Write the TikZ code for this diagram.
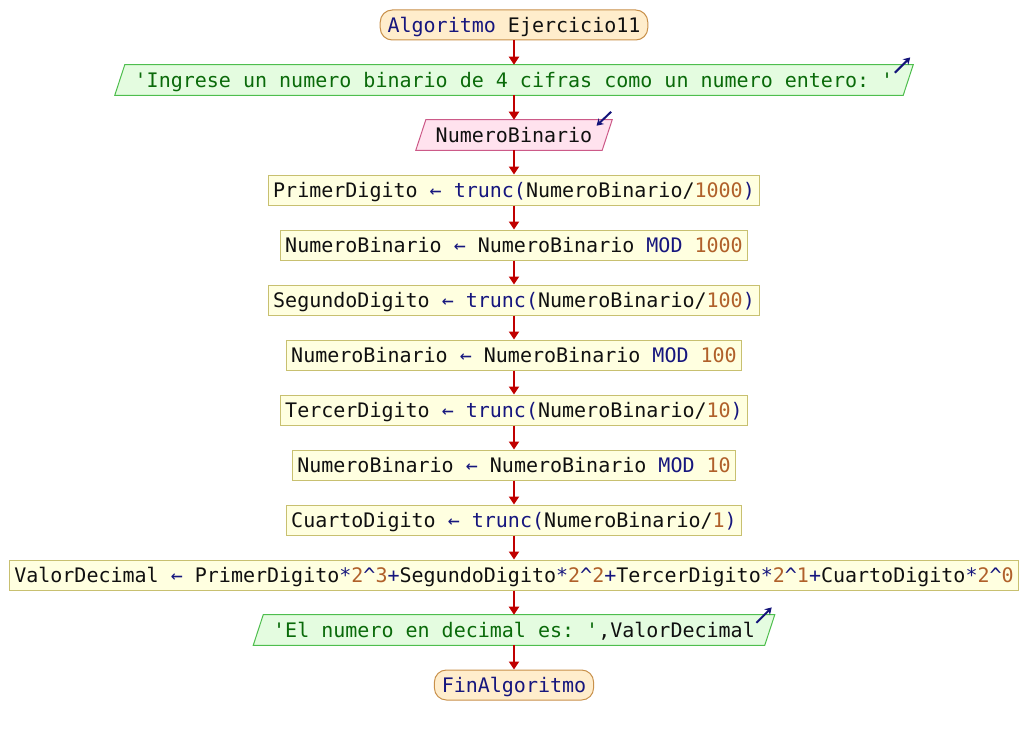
\documentclass[tikz,border=0pt]{standalone}
\usepackage{fontspec}
\setmonofont{DejaVu Sans Mono}
\usetikzlibrary{arrows.meta,backgrounds}

% palette
\definecolor{kwcol}{HTML}{16167E}
\definecolor{numcol}{HTML}{B0602A}
\definecolor{strcol}{HTML}{0A6A0A}
\definecolor{txtcol}{HTML}{101010}
\definecolor{termf}{HTML}{FFEDCC}
\definecolor{termb}{HTML}{C8904A}
\definecolor{outf}{HTML}{E4FCE0}
\definecolor{outb}{HTML}{4EBE4E}
\definecolor{inf}{HTML}{FFE2EE}
\definecolor{inb}{HTML}{CC5A88}
\definecolor{asgf}{HTML}{FFFFE0}
\definecolor{asgb}{HTML}{C8C070}
\definecolor{flowcol}{HTML}{C00000}
\definecolor{iocol}{HTML}{14147A}

% token colouring
\newcommand{\kw}[1]{\textcolor{kwcol}{#1}}
\newcommand{\nm}[1]{\textcolor{numcol}{#1}}
\newcommand{\st}[1]{\textcolor{strcol}{#1}}
\newcommand{\asg}{\textcolor{kwcol}{←}}
\newcommand{\pw}{\textasciicircum}

% parallelogram behind an io node
\newcommand{\slantbox}[3]{%
  \begin{scope}[on background layer]
    \draw[line width=0.75pt, draw=#3, fill=#2]
      ([xshift=3.75pt]#1.north west) -- ([xshift=3.75pt]#1.north east)
      -- ([xshift=-3.75pt]#1.south east) -- ([xshift=-3.75pt]#1.south west) -- cycle;
  \end{scope}}

\begin{document}
\begin{tikzpicture}[x=0.75pt, y=-0.75pt,
  every node/.style={font=\ttfamily\fontsize{15}{18}\selectfont, text=txtcol,
    minimum height=22.5pt, text height=10.9pt, text depth=0pt, inner ysep=0pt},
  term/.style={draw=termb, fill=termf, line width=0.75pt, rounded corners=9pt, inner xsep=5.5pt},
  asgbox/.style={draw=asgb, fill=asgf, line width=0.75pt, inner xsep=3.5pt},
  iobox/.style={inner xsep=11pt},
  flow/.style={draw=flowcol, line width=1.5pt, -{Triangle[width=7.5pt,length=6pt]}},
  iomark/.style={draw=iocol, line width=1.5pt, -{Stealth[width=6pt,length=5pt]}}]

\useasboundingbox (0,0) rectangle (1028,735);

\node[term] (inicio) at (514,25) {\kw{Algoritmo} Ejercicio11};
\node[iobox] (pide) at (514,80) {\st{'Ingrese un numero binario de 4 cifras como un numero entero: '}};
\slantbox{pide}{outf}{outb}
\node[iobox] (lee) at (514,135) {NumeroBinario};
\slantbox{lee}{inf}{inb}
\node[asgbox] (a1) at (514,190) {PrimerDigito \asg{} \kw{trunc(}NumeroBinario/\nm{1000}\kw{)}};
\node[asgbox] (a2) at (514,245) {NumeroBinario \asg{} NumeroBinario \kw{MOD} \nm{1000}};
\node[asgbox] (a3) at (514,300) {SegundoDigito \asg{} \kw{trunc(}NumeroBinario/\nm{100}\kw{)}};
\node[asgbox] (a4) at (514,355) {NumeroBinario \asg{} NumeroBinario \kw{MOD} \nm{100}};
\node[asgbox] (a5) at (514,410) {TercerDigito \asg{} \kw{trunc(}NumeroBinario/\nm{10}\kw{)}};
\node[asgbox] (a6) at (514,465) {NumeroBinario \asg{} NumeroBinario \kw{MOD} \nm{10}};
\node[asgbox] (a7) at (514,520) {CuartoDigito \asg{} \kw{trunc(}NumeroBinario/\nm{1}\kw{)}};
\node[asgbox] (a8) at (514,575) {ValorDecimal \asg{} PrimerDigito\kw{*}\nm{2}\kw{\pw}\nm{3}\kw{+}SegundoDigito\kw{*}\nm{2}\kw{\pw}\nm{2}\kw{+}TercerDigito\kw{*}\nm{2}\kw{\pw}\nm{1}\kw{+}CuartoDigito\kw{*}\nm{2}\kw{\pw}\nm{0}};
\node[iobox] (muestra) at (514,630) {\st{'El numero en decimal es: '},ValorDecimal};
\slantbox{muestra}{outf}{outb}
\node[term] (fin) at (514,685) {\kw{FinAlgoritmo}};

% flow of control
\draw[flow] (inicio) -- (pide);
\draw[flow] (pide) -- (lee);
\draw[flow] (lee) -- (a1);
\draw[flow] (a1) -- (a2);
\draw[flow] (a2) -- (a3);
\draw[flow] (a3) -- (a4);
\draw[flow] (a4) -- (a5);
\draw[flow] (a5) -- (a6);
\draw[flow] (a6) -- (a7);
\draw[flow] (a7) -- (a8);
\draw[flow] (a8) -- (muestra);
\draw[flow] (muestra) -- (fin);

% output / input direction marks
\coordinate (pideA) at ([shift={(-10pt,-6pt)}]pide.north east);
\coordinate (pideB) at ([shift={(1.5pt,5.5pt)}]pide.north east);
\draw[iomark] (pideA) -- (pideB);
\coordinate (leeA) at ([shift={(3pt,6pt)}]lee.north east);
\coordinate (leeB) at ([shift={(-8pt,-4.5pt)}]lee.north east);
\draw[iomark] (leeA) -- (leeB);
\coordinate (muesA) at ([shift={(-10pt,-6pt)}]muestra.north east);
\coordinate (muesB) at ([shift={(1.5pt,5.5pt)}]muestra.north east);
\draw[iomark] (muesA) -- (muesB);
\end{tikzpicture}
\end{document}
